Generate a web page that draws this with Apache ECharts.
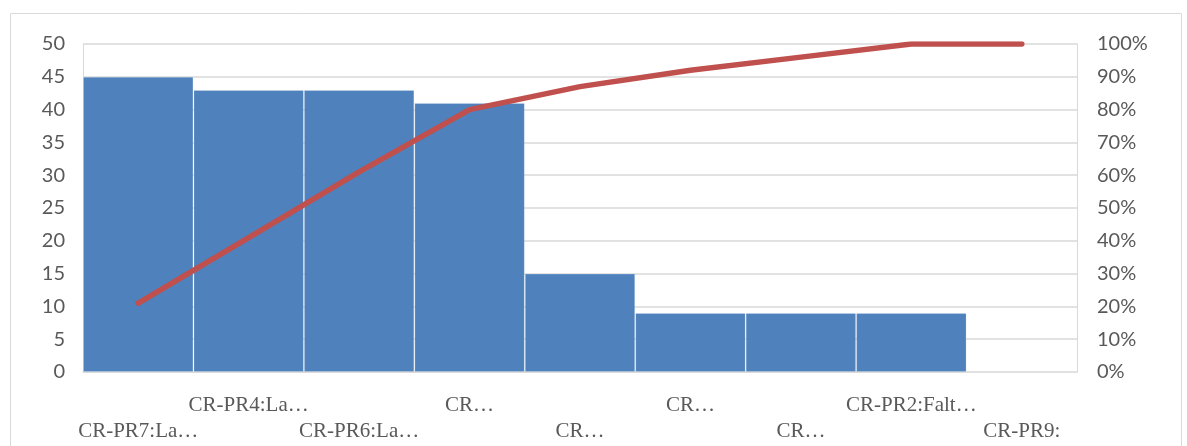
<!DOCTYPE html>
<html>
<head>
<meta charset="utf-8">
<script src="https://cdn.jsdelivr.net/npm/echarts@6/dist/echarts.min.js"></script>
<style>
  html, body { margin: 0; padding: 0; background: #fff; }
  #chart { width: 1187px; height: 446px; }
</style>
</head>
<body>
<div id="chart"></div>
<script>
// categories (labels as shown, truncated in the original)
const categories = [
  "CR-PR7:La…", "CR-PR4:La…", "CR-PR6:La…", "CR…", "CR…",
  "CR…", "CR…", "CR-PR2:Falt…", "CR-PR9:"
];
// counts per category
const counts = [45, 43, 43, 41, 15, 9, 9, 9, 0];
// cumulative percentage
const cumulative = [21, 41, 61, 80, 87, 92, 96, 100, 100];

const chart = echarts.init(document.getElementById("chart"), null, { renderer: "canvas" });

const gridColor = "#d9d9d9";
const labelColor = "#595959";

const option = {
  animation: false,
  graphic: [
    {
      type: "rect",
      shape: { x: 10.5, y: 13.5, width: 1171, height: 460 },
      style: { fill: "none", stroke: gridColor, lineWidth: 1 },
      silent: true
    }
  ],
  grid: { left: 83, right: 110, top: 44, bottom: 74 },
  xAxis: {
    type: "category",
    data: categories,
    axisLine: { lineStyle: { color: gridColor, width: 1.5 } },
    axisTick: { show: false },
    axisLabel: {
      interval: 0,
      margin: 20,
      color: labelColor,
      fontFamily: "Liberation Serif",
      fontSize: 21,
      lineHeight: 26,
      // stagger labels on two rows like the original
      formatter: (val, idx) => (idx % 2 === 0 ? "\n" + val : val)
    }
  },
  yAxis: [
    {
      type: "value",
      min: 0,
      max: 50,
      interval: 5,
      axisLine: { show: true, lineStyle: { color: gridColor } },
      axisTick: { show: false },
      splitLine: { lineStyle: { color: gridColor, width: 1.5 } },
      axisLabel: {
        color: labelColor,
        fontFamily: "Lato",
        fontSize: 20,
        margin: 18
      }
    },
    {
      type: "value",
      min: 0,
      max: 100,
      interval: 10,
      position: "right",
      axisLine: { show: true, lineStyle: { color: gridColor } },
      axisTick: { show: false },
      splitLine: { show: false },
      axisLabel: {
        color: labelColor,
        fontFamily: "Lato",
        fontSize: 20,
        margin: 20,
        formatter: "{value}%"
      }
    }
  ],
  series: [
    {
      type: "bar",
      data: counts,
      barCategoryGap: "0%",
      itemStyle: {
        color: "#4F81BD",
        borderColor: "rgba(255,255,255,0.18)",
        borderWidth: 1
      }
    },
    {
      type: "line",
      yAxisIndex: 1,
      data: cumulative,
      symbol: "none",
      lineStyle: { color: "#C0504D", width: 5.5, cap: "round", join: "round" },
      z: 5
    }
  ]
};

chart.setOption(option);
</script>
</body>
</html>
